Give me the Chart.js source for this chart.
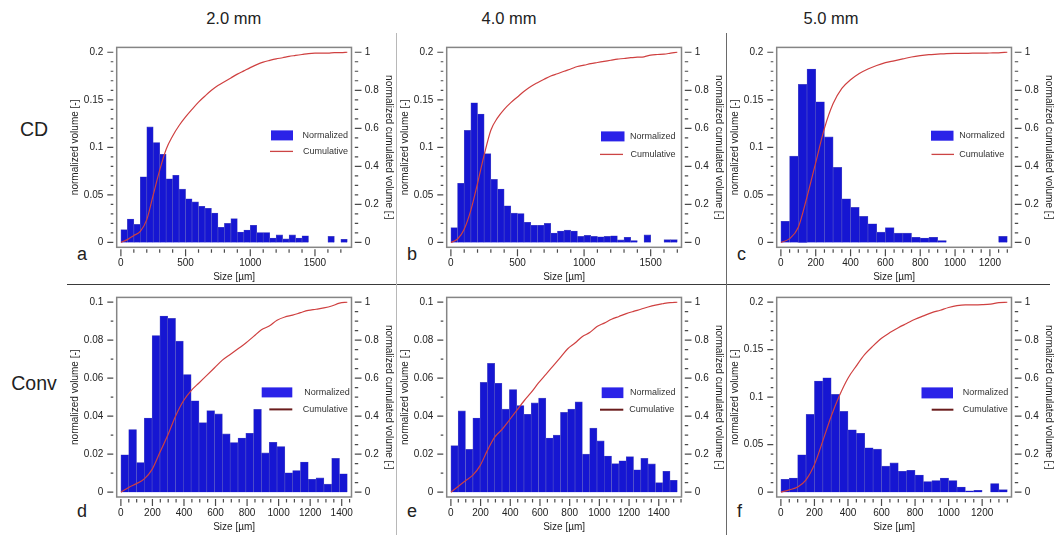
<!DOCTYPE html>
<html><head><meta charset="utf-8">
<script src="https://cdn.jsdelivr.net/npm/chart.js@4.4.1/dist/chart.umd.min.js"></script>
<style>
html,body{margin:0;padding:0;background:#fff;}
#wrap{position:relative;width:1055px;height:535px;overflow:hidden;background:#fff;font-family:"Liberation Sans",Arial,sans-serif;color:#222;}
#wrap canvas{position:absolute;}
.t{position:absolute;white-space:nowrap;line-height:1;}
.ln{position:absolute;}
</style></head><body><div id="wrap"></div>
<script>
// ---------- text ----------
const columnTitles = ['2.0 mm', '4.0 mm', '5.0 mm'];
const rowTitles = ['CD', 'Conv'];
const panelLetters = ['a', 'b', 'c', 'd', 'e', 'f'];
const seriesLabels = ['Normalized', 'Cumulative'];
const xTitle = 'Size [\u00b5m]';
const yTitle = 'normalized volume [-]';
const y2Title = 'normalized cumulated volume [-]';

// ---------- tick labels ----------
const xTicks500 = [0, 500, 1000, 1500];
const xTicks200c = [0, 200, 400, 600, 800, 1000, 1200];
const xTicks200d = [0, 200, 400, 600, 800, 1000, 1200, 1400];
const yTicks02 = [0, 0.05, 0.1, 0.15, 0.2];
const yTicks01 = [0, 0.02, 0.04, 0.06, 0.08, 0.1];
const yTicksCum = [0, 0.2, 0.4, 0.6, 0.8, 1];

// ---------- data: bin edges [um], normalized volume per bin, cumulative at edges ----------
const edgesA = [0,50,100,150,200,250,300,350,400,450,500,550,600,650,700,750,800,850,900,950,1000,1050,1100,1150,1200,1250,1300,1350,1400,1450,1500,1550,1600,1650,1700,1750];
const normA = [0.0135,0.0247,0.019,0.069,0.1215,0.105,0.0927,0.067,0.0707,0.056,0.046,0.0426,0.038,0.036,0.031,0.016,0.020,0.025,0.011,0.013,0.018,0.0105,0.0105,0.0047,0.008,0.0037,0.008,0.0047,0.007,0,0,0,0.0064,0,0.0034];
const cumA = [0,0.015,0.037,0.058,0.12,0.25,0.38,0.49,0.56,0.615,0.66,0.70,0.738,0.77,0.8,0.825,0.845,0.865,0.885,0.902,0.919,0.935,0.948,0.957,0.965,0.971,0.978,0.983,0.988,0.993,0.995,0.995,0.995,0.998,0.998,1.0];

const edgesB = [0,50,100,150,200,250,300,350,400,450,500,550,600,650,700,750,800,850,900,950,1000,1050,1100,1150,1200,1250,1300,1350,1400,1450,1500,1550,1600,1650,1700];
const normB = [0.0156,0.0623,0.1178,0.1469,0.135,0.0934,0.0663,0.0562,0.0386,0.0308,0.0305,0.0213,0.018,0.018,0.020,0.010,0.012,0.0129,0.012,0.0064,0.0074,0.0064,0.006,0.0064,0.007,0.0027,0.0054,0.002,0.0,0.008,0,0,0.003,0.003];
const cumB = [0,0.018,0.07,0.17,0.31,0.46,0.59,0.655,0.70,0.735,0.765,0.795,0.82,0.84,0.858,0.875,0.887,0.90,0.912,0.925,0.932,0.94,0.946,0.952,0.958,0.964,0.967,0.972,0.974,0.976,0.985,0.988,0.99,0.995,1.0];

const edgesC = [0,50,100,150,200,250,300,350,400,450,500,550,600,650,700,750,800,850,900,950,1000,1050,1100,1150,1200,1250,1300];
const normC = [0.0223,0.0907,0.1662,0.1824,0.1479,0.111,0.0789,0.046,0.0369,0.0274,0.0196,0.0108,0.0156,0.0098,0.0098,0.0054,0.0047,0.0054,0.002,0,0,0,0,0,0,0.0064];
const cumC = [0,0.02,0.08,0.24,0.42,0.60,0.73,0.81,0.855,0.888,0.912,0.93,0.945,0.955,0.965,0.975,0.982,0.987,0.99,0.993,0.994,0.994,0.995,0.995,0.996,0.997,1.0];

const edgesD = [0,49.5,99,148.5,198,247.5,297,346.5,396,445.5,495,544.5,594,643.5,693,742.5,792,841.5,891,940.5,990,1039.5,1089,1138.5,1188,1237.5,1287,1336.5,1386,1435.5];
const normD = [0.0197,0.033,0.0156,0.039,0.0825,0.0927,0.0915,0.0795,0.0619,0.0481,0.0366,0.0429,0.0412,0.0307,0.0261,0.0285,0.031,0.0436,0.0207,0.0263,0.024,0.0102,0.0114,0.0159,0.0068,0.0075,0.0042,0.0178,0.0097];
const cumD = [0,0.025,0.045,0.07,0.12,0.21,0.30,0.40,0.48,0.535,0.575,0.615,0.655,0.695,0.725,0.755,0.785,0.82,0.855,0.875,0.905,0.922,0.932,0.945,0.957,0.963,0.97,0.98,0.995,1.0];

const edgesE = [0,49,98,148,197,246,295,344,394,443,492,541,590,640,689,738,787,836,886,935,984,1033,1082,1132,1181,1230,1279,1328,1378,1427,1476,1525];
const normE = [0.0245,0.0428,0.0225,0.039,0.0578,0.0678,0.0573,0.0437,0.054,0.0456,0.041,0.047,0.0495,0.0285,0.03,0.042,0.0437,0.0475,0.020,0.0337,0.027,0.019,0.015,0.0165,0.0187,0.0118,0.0178,0.0149,0.005,0.011,0.0063];
const cumE = [0,0.03,0.06,0.09,0.14,0.22,0.29,0.33,0.38,0.43,0.48,0.525,0.575,0.62,0.665,0.71,0.755,0.785,0.82,0.84,0.872,0.89,0.91,0.925,0.94,0.952,0.963,0.975,0.985,0.992,0.998,1.0];

const edgesF = [0,50,100,150,200,250,300,350,400,450,500,550,600,650,700,750,800,850,900,950,1000,1050,1100,1150,1200,1250,1300,1350];
const normF = [0.0135,0.0149,0.0393,0.0819,0.117,0.1205,0.1029,0.085,0.0657,0.062,0.0467,0.0453,0.0274,0.0308,0.022,0.023,0.018,0.0112,0.0122,0.0149,0.0122,0.0054,0.0014,0.002,0,0.0091,0.0027];
const cumF = [0,0.012,0.027,0.065,0.145,0.27,0.40,0.51,0.60,0.665,0.725,0.77,0.81,0.84,0.866,0.888,0.91,0.928,0.945,0.958,0.972,0.982,0.986,0.986,0.987,0.99,0.998,1.0];

// ---------- layout / style ----------
const FONT = '"Liberation Sans", Arial, sans-serif';
const row1Leg = '#cc4444', row2Leg = '#6a1c1c';
const panels = [
  {edges:edgesA, norm:normA, cum:cumA, xTicks:xTicks500, xMinor:100, yTicks:yTicks02, yMinor:0.01,
   box:{L:116.7,T:40,R:351.5,B:247.3}, leg:{rx:-80.5,rw:22,ry:83,rh:10,nx:-49,lx:-81.5,lw:23,ly:104,cx:-48.5,lc:row1Leg,lwid:1.3}},
  {edges:edgesB, norm:normB, cum:cumB, xTicks:xTicks500, xMinor:100, yTicks:yTicks02, yMinor:0.01,
   box:{L:446.7,T:40,R:681.5,B:247.3}, leg:{rx:-80.5,rw:23.5,ry:84,rh:10,nx:-51.5,lx:-81.5,lw:23,ly:107,cx:-51,lc:row1Leg,lwid:1.3}},
  {edges:edgesC, norm:normC, cum:cumC, xTicks:xTicks200c, xMinor:50, yTicks:yTicks02, yMinor:0.01,
   box:{L:776.7,T:40,R:1011.5,B:247.3}, leg:{rx:-80.5,rw:22.5,ry:83.3,rh:10,nx:-52.3,lx:-80,lw:22.5,ly:107,cx:-52.3,lc:row1Leg,lwid:1.3}},
  {edges:edgesD, norm:normD, cum:cumD, xTicks:xTicks200d, xMinor:50, yTicks:yTicks01, yMinor:0.01,
   box:{L:116.7,T:290,R:351.5,B:497}, leg:{rx:-89.8,rw:30.6,ry:90,rh:10,nx:-47.2,lx:-82.2,lw:23,ly:112,cx:-48.8,lc:row2Leg,lwid:2}},
  {edges:edgesE, norm:normE, cum:cumE, xTicks:xTicks200d, xMinor:50, yTicks:yTicks01, yMinor:0.01,
   box:{L:446.7,T:290,R:681.5,B:497}, leg:{rx:-79.8,rw:21.7,ry:90,rh:10.7,nx:-51.5,lx:-81.5,lw:23.3,ly:112.3,cx:-52.2,lc:row2Leg,lwid:2}},
  {edges:edgesF, norm:normF, cum:cumF, xTicks:xTicks200c, xMinor:50, yTicks:yTicks02, yMinor:0.01,
   box:{L:776.7,T:290,R:1011.5,B:497}, leg:{rx:-90,rw:31.5,ry:90,rh:11,nx:-48.8,lx:-79.8,lw:21.7,ly:112.3,cx:-48.8,lc:row2Leg,lwid:2}}
];

const wrap = document.getElementById('wrap');
function addText(txt, css) {
  const d = document.createElement('div');
  d.className = 't'; d.textContent = txt;
  Object.assign(d.style, css);
  wrap.appendChild(d);
}
function addLine(css) {
  const d = document.createElement('div');
  d.className = 'ln';
  Object.assign(d.style, css);
  wrap.appendChild(d);
}
// dividers
addLine({left:'67px', top:'284px', width:'983px', height:'1px', background:'#3a3a3a'});
addLine({left:'396px', top:'33px', width:'1px', height:'502px', background:'#b8b8b8'});
addLine({left:'726px', top:'33px', width:'1px', height:'502px', background:'#6a6a6a'});
// column titles
[233.7, 509, 831].forEach((cx, i) => addText(columnTitles[i], {left:cx+'px', top:'18.3px', fontSize:'16.5px', transform:'translate(-50%,-50%)'}));
// row titles
[[34,129.7],[34,384]].forEach((p, i) => addText(rowTitles[i], {left:p[0]+'px', top:p[1]+'px', fontSize:'19.5px', transform:'translate(-50%,-50%)'}));
// panel letters (baseline positioned)
const letterPos = [[77,260],[407,260],[737,260],[77,517],[407,517],[737,517]];
letterPos.forEach((p, i) => addText(panelLetters[i], {left:p[0]+'px', top:(p[1]-0.8465*18)+'px', fontSize:'18px'}));

const framePlugin = {
  id: 'frame',
  afterDraw(chart, args, o) {
    const {ctx, chartArea: a, scales} = chart;
    const sx = scales.x, sy = scales.y, s2 = scales.y2;
    const isMaj = (list, v) => list.some(m => Math.abs(m - v) < 1e-6);
    ctx.save();
    ctx.strokeStyle = '#4a4a4a';
    ctx.lineWidth = 1.2;
    ctx.beginPath();
    for (let k = 0; k * o.xMinor <= o.xMax + 1e-6; k++) {
      const v = k * o.xMinor;
      const p = sx.getPixelForValue(v);
      ctx.moveTo(p, a.bottom + 2);
      ctx.lineTo(p, a.bottom + (isMaj(o.xTicks, v) ? 9 : 5.5));
    }
    for (let k = 0; k * o.yMinor <= o.yMax + 1e-9; k++) {
      const v = k * o.yMinor;
      const p = sy.getPixelForValue(v);
      ctx.moveTo(a.left - (isMaj(o.yTicks, v) ? 9.4 : 6), p);
      ctx.lineTo(a.left - 3.4, p);
    }
    for (let k = 0; k * 0.05 <= 1 + 1e-9; k++) {
      const v = k * 0.05;
      const p = s2.getPixelForValue(v);
      ctx.moveTo(a.right + 3.3, p);
      ctx.lineTo(a.right + (isMaj(yTicksCum, v) ? 10 : 6.7), p);
    }
    ctx.stroke();
    // frame
    ctx.strokeStyle = '#858585';
    ctx.lineWidth = 1.5;
    ctx.strokeRect(a.left, a.top, a.right - a.left, a.bottom - a.top);
    // legend
    const g = o.leg, R = a.right, T = a.top;
    const ds = chart.data.datasets;
    ctx.fillStyle = '#2a22e8';
    ctx.fillRect(R + g.rx, T + g.ry, g.rw, g.rh);
    ctx.strokeStyle = g.lc;
    ctx.lineWidth = g.lwid;
    ctx.beginPath();
    ctx.moveTo(R + g.lx, T + g.ly);
    ctx.lineTo(R + g.lx + g.lw, T + g.ly);
    ctx.stroke();
    ctx.fillStyle = '#333';
    ctx.font = '9px ' + FONT;
    ctx.textBaseline = 'middle';
    ctx.textAlign = 'left';
    ctx.fillText(ds[1].label, R + g.nx, T + g.ry + g.rh / 2);
    ctx.fillText(ds[0].label, R + g.cx, T + g.ly);
    ctx.restore();
  }
};

panels.forEach(p => {
  const {L, T, R, B} = p.box;
  const cl = Math.floor(L - 55), ct = Math.floor(T - 12);
  const cw = Math.ceil(R + 46) - cl, ch = Math.ceil(B + 42) - ct;
  const leftW = L - cl, topPad = T - ct, rightW = cw - (R - cl), bottomH = ch - (B - ct);
  const cv = document.createElement('canvas');
  cv.width = cw; cv.height = ch;
  Object.assign(cv.style, {left: cl + 'px', top: ct + 'px', width: cw + 'px', height: ch + 'px'});
  wrap.appendChild(cv);
  const xMaxData = p.edges[p.edges.length - 1];
  const xPad = xMaxData * 0.0185;
  const yMax = p.yTicks[p.yTicks.length - 1];
  const barData = p.norm.map((v, k) => ({x: (p.edges[k] + p.edges[k + 1]) / 2, y: v}));
  const cumData = p.cum.map((v, k) => ({x: p.edges[k], y: v}));
  const tickFont = {family: FONT, size: 10};
  const noGrid = {display: false, drawTicks: false, drawOnChartArea: false};
  new Chart(cv, {
    type: 'bar',
    data: {datasets: [
      {type: 'line', label: seriesLabels[1], data: cumData, yAxisID: 'y2', borderColor: '#cf4040', borderWidth: 1.2,
       pointRadius: 0, cubicInterpolationMode: 'monotone', order: 0},
      {type: 'bar', label: seriesLabels[0], data: barData, yAxisID: 'y', backgroundColor: '#1616d2', borderColor: '#5656c4',
       borderWidth: 0.6, barPercentage: 1, categoryPercentage: 1, order: 1}
    ]},
    options: {
      responsive: false, animation: false, devicePixelRatio: 1,
      layout: {padding: {left: 0, right: 0, top: topPad, bottom: 0}},
      plugins: {legend: {display: false}, tooltip: {enabled: false},
        frame: {xTicks: p.xTicks, xMinor: p.xMinor, xMax: xMaxData + xPad, yTicks: p.yTicks, yMinor: p.yMinor, yMax: yMax, leg: p.leg}},
      scales: {
        x: {type: 'linear', position: 'bottom', min: -xPad, max: xMaxData + xPad, offset: false,
          grid: noGrid, border: {display: false},
          afterBuildTicks: s => { s.ticks = p.xTicks.map(v => ({value: v})); },
          afterFit: s => { s.height = bottomH; },
          ticks: {autoSkip: false, maxRotation: 0, minRotation: 0, padding: 10, color: '#222', font: tickFont, callback: v => String(v)},
          title: {display: true, text: xTitle, color: '#222', font: tickFont, padding: {top: 0, bottom: bottomH - 36}}},
        y: {type: 'linear', position: 'left', min: -yMax * 0.0254, max: yMax * 1.0254,
          grid: noGrid, border: {display: false},
          afterBuildTicks: s => { s.ticks = p.yTicks.map(v => ({value: v})); },
          afterFit: s => { s.width = leftW; },
          ticks: {autoSkip: false, padding: 13.4, color: '#222', font: tickFont, callback: v => String(+v.toFixed(3))},
          title: {display: true, text: yTitle, color: '#222', font: tickFont, padding: {top: leftW - 47, bottom: 0}}},
        y2: {type: 'linear', position: 'right', min: -0.0254, max: 1.0254,
          grid: noGrid, border: {display: false},
          afterBuildTicks: s => { s.ticks = yTicksCum.map(v => ({value: v})); },
          afterFit: s => { s.width = rightW; },
          ticks: {autoSkip: false, padding: 13.3, color: '#222', font: tickFont, callback: v => String(+v.toFixed(3))},
          title: {display: true, text: y2Title, color: '#222', font: tickFont, padding: {top: rightW - 42.8, bottom: 0}}}
      }
    },
    plugins: [framePlugin]
  });
});
</script></body></html>
